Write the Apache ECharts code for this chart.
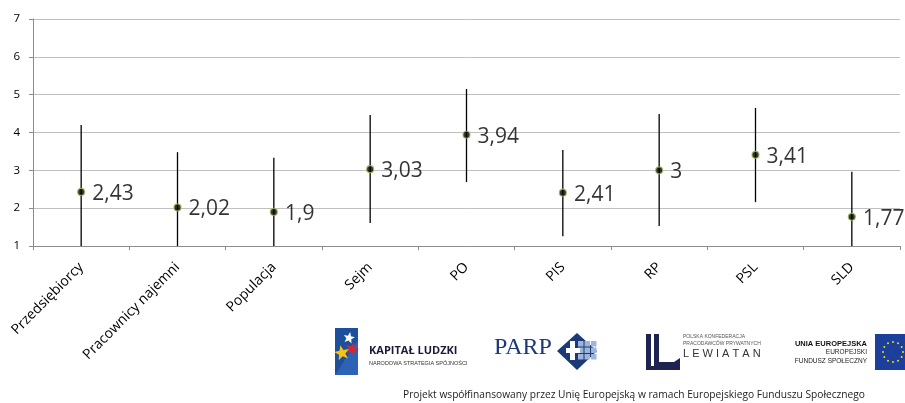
<!DOCTYPE html>
<html><head><meta charset="utf-8">
<script src="https://cdn.jsdelivr.net/npm/echarts@6/dist/echarts.min.js"></script>
<style>html,body{margin:0;padding:0;background:#fff}#c{width:905px;height:403px}</style>
</head><body><div id="c"></div>
<script>
const categories = ['Przedsiębiorcy','Pracownicy najemni','Populacja','Sejm','PO','PIS','RP','PSL','SLD'];
const means = [2.43, 2.02, 1.9, 3.03, 3.94, 2.41, 3, 3.41, 1.77];
const lowers = [0.66, 0.56, 0.47, 1.61, 2.69, 1.26, 1.53, 2.16, 0.58];
const uppers = [4.2, 3.48, 3.33, 4.46, 5.15, 3.54, 4.49, 4.65, 2.96];
const yTicks = [1, 2, 3, 4, 5, 6, 7];

function star(cx, cy, R, r, rot) {
  const pts = [];
  for (let i = 0; i < 10; i++) {
    const a = rot + i * Math.PI / 5;
    const rr = i % 2 === 0 ? R : r;
    pts.push([cx + rr * Math.sin(a), cy - rr * Math.cos(a)]);
  }
  return pts;
}
const graphics = [];
// Kapitał Ludzki logo
graphics.push({type:'rect', shape:{x:335,y:328,width:23,height:47}, style:{fill:'#1d4f9c'}});
graphics.push({type:'polygon', shape:{points:[[335,375],[358,340],[358,375]]}, style:{fill:'#2c63b5'}});
graphics.push({type:'polygon', shape:{points:star(349,338,6,2.6,0.2)}, style:{fill:'#ffffff'}});
graphics.push({type:'polygon', shape:{points:star(352,349,7,3,0.3)}, style:{fill:'#d7262e'}});
graphics.push({type:'polygon', shape:{points:star(342,353,8,3.4,-0.2)}, style:{fill:'#f6c40e'}});
graphics.push({type:'text', x:369, y:356, style:{text:'KAPITAŁ LUDZKI', fontFamily:'Open Sans', fontWeight:'bold', fontSize:11, fill:'#1a1a3a', textVerticalAlign:'bottom'}});
graphics.push({type:'text', x:369, y:363, style:{text:'NARODOWA STRATEGIA SPÓJNOŚCI', fontFamily:'Liberation Sans Narrow, Liberation Sans', fontSize:5.5, fill:'#333', textVerticalAlign:'middle'}});
// PARP
graphics.push({type:'text', x:494, y:360, style:{text:'PARP', fontFamily:'Liberation Serif', fontSize:24, fill:'#1d3a78', textVerticalAlign:'bottom'}});
graphics.push({type:'polygon', shape:{points:[[577,333],[597,351],[577,370],[557,351]]}, style:{fill:'#1d3a78'}});
for (let r = 0; r < 3; r++) for (let c = 0; c < 3; c++) {
  graphics.push({type:'rect', shape:{x:578 + c*6.5, y:341 + r*6.5, width:5.5, height:5.5}, style:{fill:'#9fb4da'}});
}
graphics.push({type:'rect', shape:{x:566,y:348,width:14,height:5}, style:{fill:'#ffffff'}});
graphics.push({type:'rect', shape:{x:570,y:341,width:5,height:19}, style:{fill:'#ffffff'}});
// Lewiatan
graphics.push({type:'rect', shape:{x:646,y:334,width:5,height:36}, style:{fill:'#1e2350'}});
graphics.push({type:'rect', shape:{x:654,y:334,width:5,height:32}, style:{fill:'#1e2350'}});
graphics.push({type:'polygon', shape:{points:[[646,370],[680,370],[680,358],[674,362],[659,362],[659,366],[651,366]]}, style:{fill:'#1e2350'}});
graphics.push({type:'text', x:683, y:337, style:{text:'POLSKA KONFEDERACJA', fontFamily:'Liberation Sans', fontSize:5, fill:'#555', textVerticalAlign:'middle'}});
graphics.push({type:'text', x:683, y:344, style:{text:'PRACODAWCÓW PRYWATNYCH', fontFamily:'Liberation Sans', fontSize:5, fill:'#555', textVerticalAlign:'middle'}});
graphics.push({type:'text', x:683, y:354, style:{text:'L E W I A T A N', fontFamily:'Liberation Sans', fontSize:11, fill:'#333', textVerticalAlign:'middle'}});
// UE
graphics.push({type:'text', x:867, y:344, style:{text:'UNIA EUROPEJSKA', fontFamily:'Liberation Sans', fontWeight:'bold', fontSize:7.5, fill:'#111', align:'right', textVerticalAlign:'middle'}});
graphics.push({type:'text', x:867, y:352, style:{text:'EUROPEJSKI', fontFamily:'Liberation Sans', fontSize:6.5, fill:'#222', align:'right', textVerticalAlign:'middle'}});
graphics.push({type:'text', x:867, y:361, style:{text:'FUNDUSZ SPOŁECZNY', fontFamily:'Liberation Sans', fontSize:6.5, fill:'#222', align:'right', textVerticalAlign:'middle'}});
graphics.push({type:'rect', shape:{x:875,y:334,width:30,height:36}, style:{fill:'#1b3f9a'}});
for (let i = 0; i < 12; i++) {
  const a = i * Math.PI / 6;
  graphics.push({type:'circle', shape:{cx:893 + 10*Math.sin(a), cy:352 - 10*Math.cos(a), r:1}, style:{fill:'#f5d90a'}});
}
// footer
graphics.push({type:'text', x:634, y:395, style:{text:'Projekt współfinansowany przez Unię Europejską w ramach Europejskiego Funduszu Społecznego', fontFamily:'Open Sans', fontSize:10.2, fill:'#222', align:'center', textVerticalAlign:'middle'}});

const chart = echarts.init(document.getElementById('c'));
chart.setOption({
  animation: false,
  grid: {left: 33, right: 5, top: 19, bottom: 157},
  xAxis: {
    type: 'category', data: categories, boundaryGap: true,
    axisLine: {lineStyle: {color: '#8c8c8c'}},
    axisTick: {show: true, length: 4, lineStyle: {color: '#8c8c8c'}},
    axisLabel: {rotate: 45, fontFamily: 'Open Sans', fontSize: 14, color: '#000', margin: 19, interval: 0}
  },
  yAxis: {
    type: 'value', min: yTicks[0], max: yTicks[yTicks.length-1], interval: 1,
    axisLine: {show: true, lineStyle: {color: '#8c8c8c'}},
    axisTick: {show: true, length: 4, lineStyle: {color: '#8c8c8c'}},
    axisLabel: {fontFamily: 'Open Sans', fontSize: 11.5, color: '#000', margin: 13},
    splitLine: {lineStyle: {color: '#c0c0c0', width: 1}}
  },
  graphic: graphics,
  series: [
    {
      type: 'custom', clip: true, z: 2,
      data: categories.map((c, i) => [i, lowers[i], uppers[i]]),
      renderItem: function (params, api) {
        const lo = api.coord([api.value(0), Math.max(api.value(1), 1)]);
        const hi = api.coord([api.value(0), api.value(2)]);
        return {type: 'line', shape: {x1: lo[0], y1: lo[1], x2: hi[0], y2: hi[1]}, style: {stroke: '#000', lineWidth: 1.3}};
      }
    },
    {
      type: 'scatter', z: 3,
      data: means,
      symbol: 'circle', symbolSize: 7,
      itemStyle: {color: '#000', borderColor: '#9bbb59', borderWidth: 1.2},
      label: {
        show: true, position: 'right', distance: 7, offset: [0, 2],
        fontFamily: 'Open Sans', fontSize: 21, color: '#000',
        formatter: p => String(p.value).replace('.', ',')
      }
    }
  ]
});
</script></body></html>
